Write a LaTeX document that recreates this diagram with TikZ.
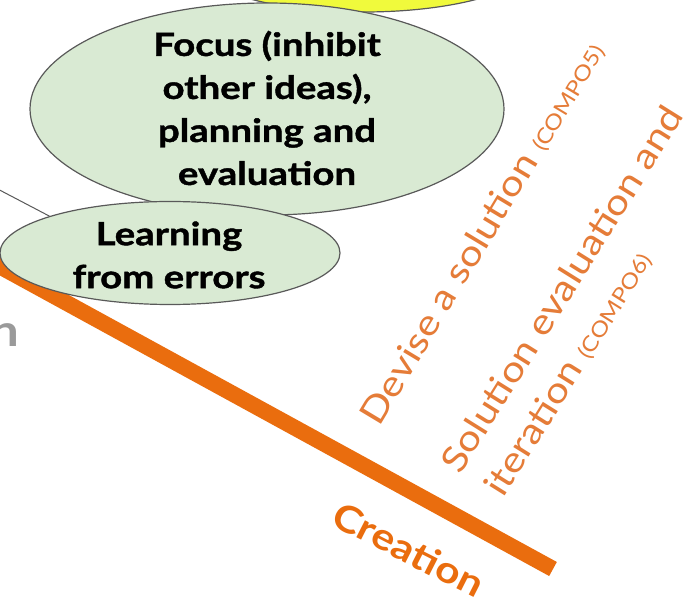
\documentclass[tikz,border=0pt]{standalone}
\usepackage{fontspec}
\setmainfont[FakeStretch=1.16]{Lato}
\newfontfamily\bubblefont[FakeStretch=1.2, BoldFeatures={FakeBold=1.3}]{Lato}
\usetikzlibrary{shapes.geometric}
\definecolor{bubblegreen}{RGB}{217,234,211}
\definecolor{bubbleline}{RGB}{89,89,89}
\definecolor{noteyellow}{RGB}{240,250,60}
\definecolor{axisorange}{RGB}{234,109,14}
\definecolor{labelorange}{RGB}{229,124,56}
\definecolor{fadedgray}{RGB}{154,154,154}
\newcommand{\codesize}{\fontsize{21}{24}\selectfont}
\tikzset{
  bubble/.style={ellipse, draw=bubbleline, line width=1.2pt, fill=bubblegreen, inner sep=0pt},
  bubbletext/.style={align=center, inner sep=0pt, font=\bubblefont\fontsize{32}{43}\selectfont\bfseries},
  stagelabel/.style={text=labelorange, inner sep=0pt, anchor=base west, font=\fontsize{35.5}{44}\selectfont},
  conn/.style={draw=bubbleline, line width=1pt},
}
\begin{document}
\begin{tikzpicture}[x=1pt,y=-1pt]
\useasboundingbox (0,0) rectangle (693,612);
\clip (0,0) rectangle (693,612);
\fill[white] (0,0) rectangle (693,612);

% yellow bubble, mostly above the top edge
\node[ellipse, draw=bubbleline, line width=1.2pt, fill=noteyellow,
      minimum width=350, minimum height=108] (note) at (364,-42) {};

% big green bubble
\node[bubble, minimum width=474, minimum height=212] (focus) at (267,109) {};
\node[bubbletext] (focustext) at (267,108) {Focus (inhibit\\other ideas),\\planning and\\evaluation};

% orange creation axis
\coordinate (axisstart) at (-10,261);
\coordinate (axisend) at (553,569);
\draw[axisorange, line width=16pt] (axisstart) -- (axisend);

% connector entering from the left
\coordinate (offleft) at (-10,185);

% small green bubble
\node[bubble, minimum width=340, minimum height=103] (learn) at (170,253) {};
\draw[conn] (offleft) -- (learn.163);
\node[bubbletext] (learntext) at (169,255) {Learning\\from errors};

% faded gray word at the left edge
\node[text=fadedgray, inner sep=0pt, anchor=base east,
      font=\fontsize{44}{50}\selectfont\bfseries] (leftword) at (19,346) {n};

% axis title
\node[text=axisorange, inner sep=0pt, anchor=base west, rotate=-27,
      font=\fontsize{37}{44}\selectfont\bfseries] (creation) at (329,524) {Creation};

% stage labels
\node[stagelabel, rotate=59] (devise) at (379,428) {Devise a solution {\codesize (COMPO5)}};
\node[stagelabel, rotate=58] (solution) at (460,476) {Solution evaluation and};
\node[stagelabel, rotate=58] (iteration) at (503,499) {iteration {\codesize (COMPO6)}};
\end{tikzpicture}
\end{document}
